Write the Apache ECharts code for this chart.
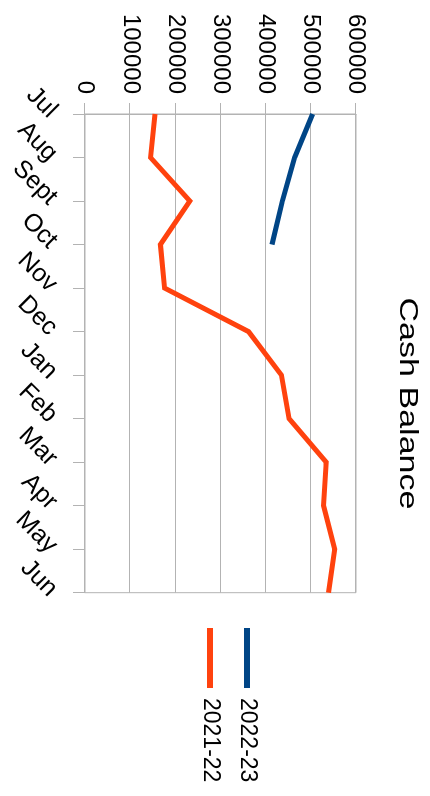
<!DOCTYPE html>
<html>
<head>
<meta charset="utf-8">
<script src="https://cdn.jsdelivr.net/npm/echarts@6/dist/echarts.min.js"></script>
<style>
  html, body { margin: 0; padding: 0; background: #ffffff; overflow: hidden; }
  /* Landscape chart turned a quarter turn clockwise to fill the portrait page */
  #wrap {
    position: absolute; left: 0; top: 0;
    width: 796px; height: 430px;
    transform-origin: 0 0;
    transform: translate(430px, 0) rotate(90deg);
  }
  #chart { width: 796px; height: 430px; }
</style>
</head>
<body>
<div id="wrap"><div id="chart"></div></div>
<script>
const months = ['Jul', 'Aug', 'Sept', 'Oct', 'Nov', 'Dec', 'Jan', 'Feb', 'Mar', 'Apr', 'May', 'Jun'];
const balance2223 = [504000, 464000, 437000, 414000];
const balance2122 = [155000, 145000, 232000, 167000, 176000, 362000, 435000, 452000, 534000, 528000, 553000, 539000];
const seriesNames = ['2022-23', '2021-22'];
const valueMin = 0;
const valueMax = 600000;
const valueStep = 100000;
const chartTitle = 'Cash Balance';

const font = 'Liberation Sans, Arial, sans-serif';
const gridColor = '#b3b3b3';

const chart = echarts.init(document.getElementById('chart'), null, { renderer: 'canvas' });
chart.setOption({
  animation: false,
  backgroundColor: '#ffffff',
  textStyle: { fontFamily: font },
  graphic: [{
    type: 'text',
    x: 403.5,
    y: 23,
    scaleX: 1.31,
    style: {
      text: chartTitle,
      fontFamily: font,
      fontSize: 26,
      fill: '#000000',
      textAlign: 'center',
      textVerticalAlign: 'middle'
    }
  }],
  legend: {
    orient: 'vertical',
    left: 623,
    top: 166,
    itemWidth: 60,
    itemHeight: 6,
    itemGap: 13,
    icon: 'rect',
    data: seriesNames,
    textStyle: { fontFamily: font, fontSize: 23, color: '#000000', padding: [0, 0, 0, 5], lineHeight: 24 }
  },
  grid: {
    left: 114,
    right: 796 - 592.7,
    top: 74,
    bottom: 85,
    show: true,
    borderColor: gridColor,
    borderWidth: 1,
    containLabel: false
  },
  xAxis: {
    type: 'category',
    data: months,
    boundaryGap: false,
    axisLine: { show: true, lineStyle: { color: gridColor, width: 1 } },
    axisTick: { show: true, inside: false, length: 12, lineStyle: { color: gridColor } },
    axisLabel: { rotate: 45, margin: 32, fontSize: 25, color: '#000000', fontFamily: font, interval: 0 },
    splitLine: { show: false }
  },
  yAxis: {
    type: 'value',
    min: valueMin,
    max: valueMax,
    interval: valueStep,
    axisLine: { show: true, lineStyle: { color: gridColor, width: 1 } },
    axisTick: { show: true, inside: false, length: 11, lineStyle: { color: gridColor } },
    axisLabel: { margin: 20, fontSize: 24, color: '#000000', fontFamily: font, formatter: (v) => String(v) },
    splitLine: { show: true, lineStyle: { color: gridColor, width: 1 } }
  },
  series: [
    {
      name: seriesNames[0],
      type: 'line',
      data: balance2223,
      symbol: 'none',
      color: '#004586',
      lineStyle: { width: 5, color: '#004586', join: 'miter' }
    },
    {
      name: seriesNames[1],
      type: 'line',
      data: balance2122,
      symbol: 'none',
      color: '#ff420e',
      lineStyle: { width: 5, color: '#ff420e', join: 'miter' }
    }
  ]
});
</script>
</body>
</html>
